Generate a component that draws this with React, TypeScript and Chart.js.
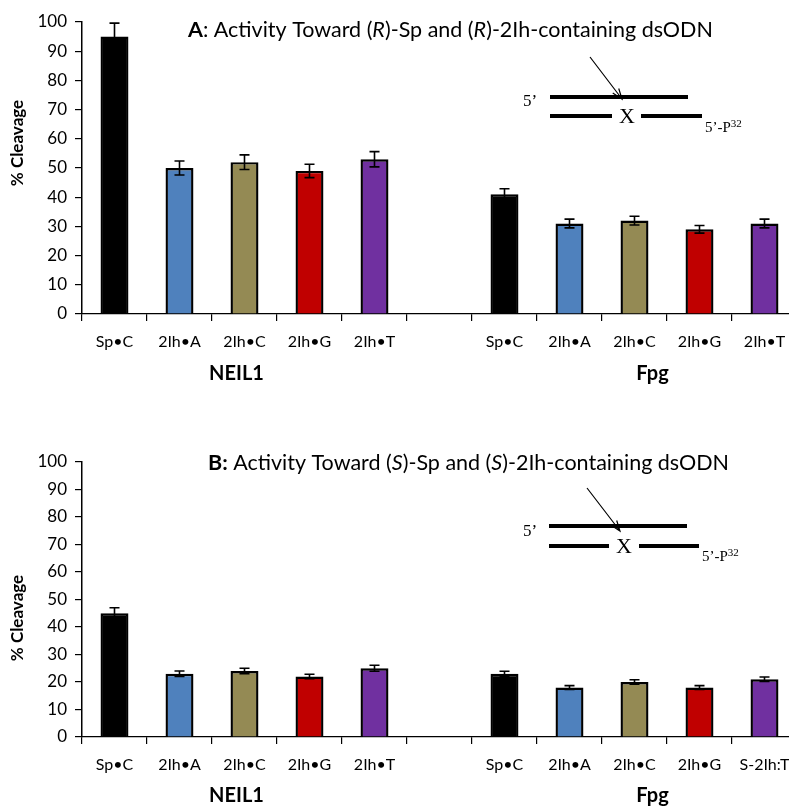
import React, { useEffect, useRef } from "react";
import { Chart, registerables } from "chart.js";
Chart.register(...registerables);

// ---------- data ----------
const categoriesA = ["Sp•C", "2Ih•A", "2Ih•C", "2Ih•G", "2Ih•T", "", "Sp•C", "2Ih•A", "2Ih•C", "2Ih•G", "2Ih•T"];
const categoriesB = ["Sp•C", "2Ih•A", "2Ih•C", "2Ih•G", "2Ih•T", "", "Sp•C", "2Ih•A", "2Ih•C", "2Ih•G", "S-2Ih:T"];
const valuesA = [95, 50, 52, 49, 53, null, 41, 31, 32, 29, 31];
const errorsA = [4.6, 2.4, 2.5, 2.3, 2.6, null, 1.9, 1.5, 1.5, 1.3, 1.5];
const valuesB = [45, 23, 24, 22, 25, null, 23, 18, 20, 18, 21];
const errorsB = [2, 1, 1, 0.8, 1.1, null, 0.9, 0.7, 0.8, 0.7, 0.8];
const barColors = ["#000000", "#4F81BD", "#948A54", "#C00000", "#7030A0", "rgba(0,0,0,0)", "#000000", "#4F81BD", "#948A54", "#C00000", "#7030A0"];
const groupLabels = ["NEIL1", "Fpg"];
const yAxisTitle = "% Cleavage";
const titleA = [
  { t: "A", b: true },
  { t: ": Activity Toward (" },
  { t: "R", i: true },
  { t: ")-Sp and (" },
  { t: "R", i: true },
  { t: ")-2Ih-containing dsODN" },
];
const titleB = [
  { t: "B:", b: true },
  { t: " Activity Toward (" },
  { t: "S", i: true },
  { t: ")-Sp and (" },
  { t: "S", i: true },
  { t: ")-2Ih-containing dsODN" },
];

const FONT = "Lato, 'Open Sans', sans-serif";
const SERIF = "'Liberation Serif', 'DejaVu Serif', serif";
const CW = 830;
const CH = 404;

type Geo = {
  plotTop: number;
  plotBottom: number;
  titleX: number;
  titleY: number;
  yTitleY: number;
  groupY: number;
  inset: {
    arrow: [number, number, number, number];
    line1: [number, number, number];
    line2a: [number, number, number];
    line2b: [number, number, number];
    five: [number, number];
    x: [number, number];
    p: [number, number];
  };
};

const geoA: Geo = {
  plotTop: 22,
  plotBottom: 314,
  titleX: 188,
  titleY: 30,
  yTitleY: 143,
  groupY: 374,
  inset: {
    arrow: [590, 57, 622, 99],
    line1: [550, 688, 97],
    line2a: [550, 612, 116],
    line2b: [641, 702, 116],
    five: [530, 102],
    x: [627, 117],
    p: [705, 128],
  },
};
const geoB: Geo = {
  plotTop: 58,
  plotBottom: 333,
  titleX: 208,
  titleY: 59,
  yTitleY: 214,
  groupY: 392,
  inset: {
    arrow: [587, 84, 620, 127],
    line1: [549, 687, 122],
    line2a: [549, 609, 142],
    line2b: [639, 699, 142],
    five: [530, 128],
    x: [624, 143],
    p: [702, 153],
  },
};

function makePlugin(errors: (number | null)[], title: any[], geo: Geo) {
  return {
    id: "extras",
    afterDatasetsDraw(chart: any) {
      const ctx = chart.ctx;
      const meta = chart.getDatasetMeta(0);
      const ys = chart.scales.y;
      const data = chart.data.datasets[0].data;
      ctx.save();
      ctx.strokeStyle = "#000";
      ctx.lineWidth = 1.6;
      meta.data.forEach((bar: any, i: number) => {
        const v = data[i];
        const e = errors[i];
        if (v == null || e == null) return;
        const yt = ys.getPixelForValue(v + e);
        const yb = ys.getPixelForValue(v - e);
        ctx.beginPath();
        ctx.moveTo(bar.x, yt);
        ctx.lineTo(bar.x, yb);
        ctx.moveTo(bar.x - 5, yt);
        ctx.lineTo(bar.x + 5, yt);
        ctx.moveTo(bar.x - 5, yb);
        ctx.lineTo(bar.x + 5, yb);
        ctx.stroke();
      });
      ctx.restore();
    },
    afterDraw(chart: any) {
      const ctx = chart.ctx;
      const xs = chart.scales.x;
      ctx.save();
      ctx.fillStyle = "#000";
      // title
      ctx.textBaseline = "middle";
      ctx.textAlign = "left";
      let x = geo.titleX;
      title.forEach((s: any) => {
        ctx.font = `${s.i ? "italic " : ""}${s.b ? "bold " : ""}21.5px ${FONT}`;
        ctx.fillText(s.t, x, geo.titleY);
        x += ctx.measureText(s.t).width;
      });
      // group labels
      ctx.textAlign = "center";
      ctx.font = `bold 20px ${FONT}`;
      ctx.fillText(groupLabels[0], xs.getPixelForValue(2) - 8, geo.groupY);
      ctx.fillText(groupLabels[1], xs.getPixelForValue(8) + 18, geo.groupY);
      // y axis title
      ctx.save();
      ctx.translate(18, geo.yTitleY);
      ctx.rotate(-Math.PI / 2);
      ctx.font = `bold 17px ${FONT}`;
      ctx.fillText(yAxisTitle, 0, 0);
      ctx.restore();
      // inset diagram
      const ins = geo.inset;
      ctx.strokeStyle = "#000";
      ctx.lineWidth = 4;
      ctx.beginPath();
      ctx.moveTo(ins.line1[0], ins.line1[2]);
      ctx.lineTo(ins.line1[1], ins.line1[2]);
      ctx.moveTo(ins.line2a[0], ins.line2a[2]);
      ctx.lineTo(ins.line2a[1], ins.line2a[2]);
      ctx.moveTo(ins.line2b[0], ins.line2b[2]);
      ctx.lineTo(ins.line2b[1], ins.line2b[2]);
      ctx.stroke();
      const [ax1, ay1, ax2, ay2] = ins.arrow;
      ctx.lineWidth = 1.2;
      ctx.beginPath();
      ctx.moveTo(ax1, ay1);
      ctx.lineTo(ax2, ay2);
      const ang = Math.atan2(ay2 - ay1, ax2 - ax1);
      const hl = 11;
      ctx.moveTo(ax2 - hl * Math.cos(ang - 0.35), ay2 - hl * Math.sin(ang - 0.35));
      ctx.lineTo(ax2, ay2);
      ctx.lineTo(ax2 - hl * Math.cos(ang + 0.35), ay2 - hl * Math.sin(ang + 0.35));
      ctx.stroke();
      ctx.textAlign = "center";
      ctx.font = `17px ${SERIF}`;
      ctx.fillText("5’", ins.five[0], ins.five[1]);
      ctx.font = `22px ${SERIF}`;
      ctx.fillText("X", ins.x[0], ins.x[1]);
      ctx.textAlign = "left";
      ctx.font = `15px ${SERIF}`;
      ctx.fillText("5’-P", ins.p[0], ins.p[1]);
      const pw = ctx.measureText("5’-P").width;
      ctx.font = `11px ${SERIF}`;
      ctx.fillText("32", ins.p[0] + pw, ins.p[1] - 4);
      ctx.restore();
    },
  };
}

function Panel({ labels, values, errors, title, geo }: any) {
  const ref = useRef<HTMLCanvasElement>(null);
  useEffect(() => {
    const c = ref.current;
    if (!c) return;
    const chart = new Chart(c, {
      type: "bar",
      data: {
        labels,
        datasets: [
          {
            data: values,
            backgroundColor: barColors,
            borderColor: "#000",
            borderWidth: 2.4,
            categoryPercentage: 1,
            barPercentage: 0.43,
          },
        ],
      },
      options: {
        animation: false,
        responsive: false,
        maintainAspectRatio: false,
        layout: { padding: { top: geo.plotTop, left: 0, right: CW - 797, bottom: 0 } },
        plugins: { legend: { display: false }, tooltip: { enabled: false }, title: { display: false } },
        scales: {
          x: {
            grid: { display: true, drawOnChartArea: false, drawTicks: true, tickLength: 7, color: "#000", offset: true, lineWidth: 1.2 },
            border: { display: true, color: "#000", width: 1.2 },
            ticks: { color: "#000", font: { family: FONT, size: 16 }, padding: 11, maxRotation: 0, autoSkip: false },
            afterFit: (s: any) => {
              s.height = CH - geo.plotBottom;
            },
          },
          y: {
            min: 0,
            max: 100,
            ticks: { stepSize: 10, color: "#000", font: { family: FONT, size: 17 }, padding: 8 },
            grid: { drawOnChartArea: false, drawTicks: true, tickLength: 7, color: "#000", lineWidth: 1.2 },
            border: { display: true, color: "#000", width: 1.5 },
            afterFit: (s: any) => {
              s.width = 82;
            },
          },
        },
      },
      plugins: [makePlugin(errors, title, geo)],
    } as any);
    return () => chart.destroy();
  }, []);
  return <canvas ref={ref} width={CW} height={CH} style={{ display: "block", width: CW, height: CH }} />;
}

export default function App() {
  return (
    <div style={{ position: "absolute", left: 0, top: 0, width: 789, height: 808, overflow: "hidden", background: "#fff" }}>
      <Panel labels={categoriesA} values={valuesA} errors={errorsA} title={titleA} geo={geoA} />
      <Panel labels={categoriesB} values={valuesB} errors={errorsB} title={titleB} geo={geoB} />
    </div>
  );
}
